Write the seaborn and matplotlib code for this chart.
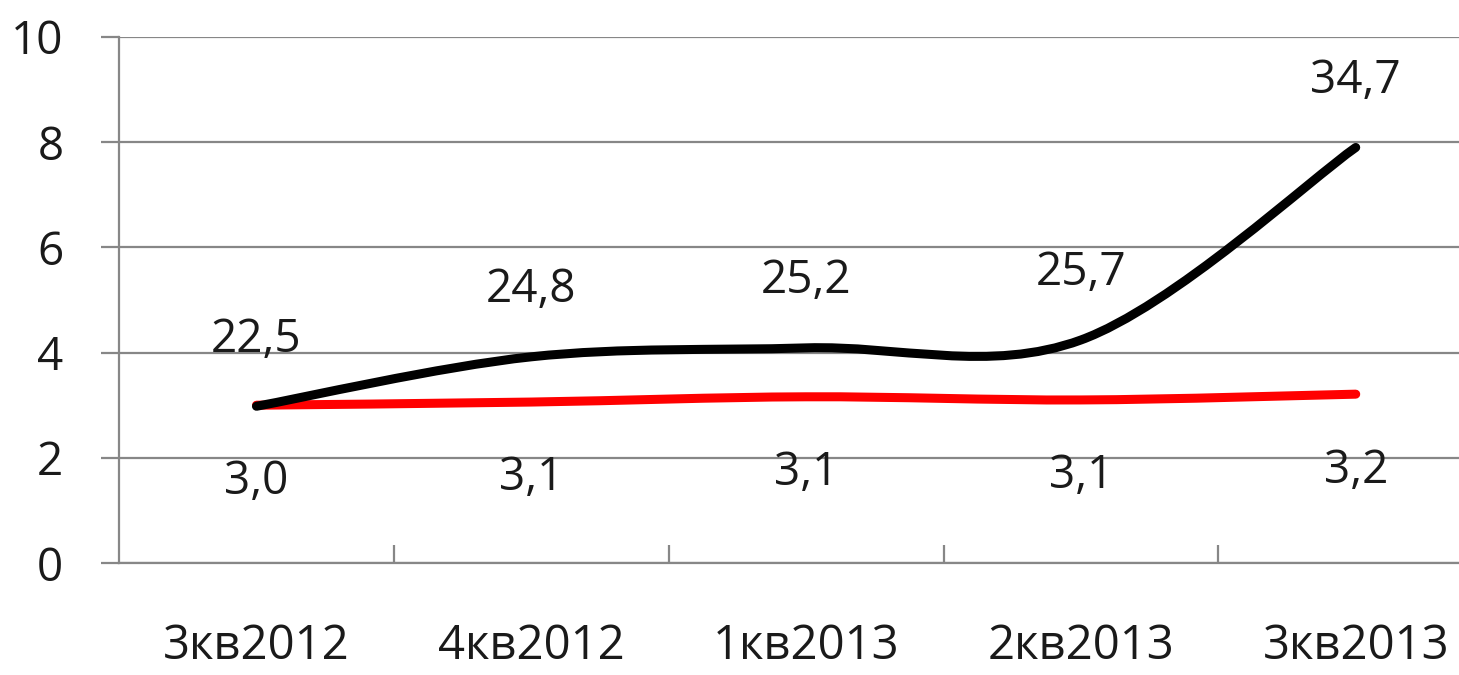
import numpy as np
import matplotlib
matplotlib.use("Agg")
import matplotlib.pyplot as plt
from matplotlib.path import Path
from matplotlib.patches import PathPatch
import seaborn as sns

# данные
quarters = ["3кв2012", "4кв2012", "1кв2013", "2кв2013", "3кв2013"]
black_vals = [2.98, 3.92, 4.09, 4.24, 7.9]
black_labels = ["22,5", "24,8", "25,2", "25,7", "34,7"]
red_vals = [3.0, 3.06, 3.16, 3.10, 3.21]
red_labels = ["3,0", "3,1", "3,1", "3,1", "3,2"]
y_ticks = [0, 2, 4, 6, 8, 10]

sns.set_theme(style="white")
plt.rcParams['font.family'] = ['Open Sans', 'DejaVu Sans']

GRID = "#878787"
TXT = "#1a1a1a"


def smooth_path(xs, ys):
    # сглаженная линия как в Excel (кривые Безье через точки)
    pts = np.column_stack([xs, ys]).astype(float)
    n = len(pts)
    verts = [pts[0]]
    codes = [Path.MOVETO]
    for i in range(n - 1):
        p0 = pts[i - 1] if i > 0 else pts[i]
        p1, p2 = pts[i], pts[i + 1]
        p3 = pts[i + 2] if i + 2 < n else pts[i + 1]
        verts += [p1 + (p2 - p0) / 6, p2 - (p3 - p1) / 6, p2]
        codes += [Path.CURVE4] * 3
    return Path(verts, codes)


fig = plt.figure(figsize=(14.59, 6.75), dpi=100)
ax = fig.add_axes([0.0816, 0.1659, 0.9418, 0.7793])

xs = np.arange(len(quarters))

for vals, col in [(red_vals, "#ff0000"), (black_vals, "black")]:
    patch = PathPatch(smooth_path(xs, vals), facecolor="none", edgecolor=col,
                      lw=6.5, capstyle="round", joinstyle="round", zorder=3)
    ax.add_patch(patch)

for x, y, t in zip(xs, black_vals, black_labels):
    ax.annotate(t, (x, y), xytext=(0, 48), textcoords="offset points",
                ha="center", va="center", fontsize=33, color=TXT)
for x, y, t in zip(xs, red_vals, red_labels):
    ax.annotate(t, (x, y), xytext=(0, -55), textcoords="offset points",
                ha="center", va="center", fontsize=33, color=TXT)

ax.set_xlim(-0.5, 4.5)
ax.set_ylim(0, 10)
ax.set_yticks(y_ticks)
ax.set_yticklabels([str(v) for v in y_ticks])
ax.set_xticks(xs)
ax.set_xticklabels(quarters)
ax.set_xticks(xs[:-1] + 0.5, minor=True)

ax.yaxis.grid(True, color=GRID, lw=1.6)
ax.set_axisbelow(True)
sns.despine(ax=ax, top=True, right=True)
for s in ["left", "bottom"]:
    ax.spines[s].set_color(GRID)
    ax.spines[s].set_linewidth(1.6)

ax.tick_params(axis="y", direction="out", length=13, width=1.6, color=GRID,
               pad=27, labelsize=33, labelcolor=TXT, left=True)
ax.tick_params(axis="x", which="major", length=0, pad=43, labelsize=34,
               labelcolor=TXT)
ax.tick_params(axis="x", which="minor", direction="in", length=13, width=1.6,
               color=GRID, bottom=True)

fig.savefig("out.png", dpi=100)
